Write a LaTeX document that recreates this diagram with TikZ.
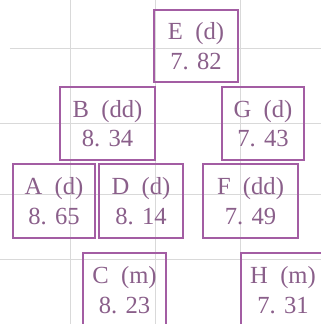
\documentclass[tikz,border=0pt]{standalone}
\usepackage{fontspec}
\setmainfont{Liberation Serif}
\definecolor{boxline}{HTML}{A35DA3}
\definecolor{boxtext}{HTML}{8A5F8A}
\definecolor{gridline}{HTML}{D9D9D9}
\begin{document}
\begin{tikzpicture}[x=0.03cm,y=-0.03cm,
  cell/.style={draw=boxline,line width=0.9pt,text=boxtext,align=center,
    font=\fontsize{21}{25}\selectfont,inner sep=0pt}]
  \useasboundingbox (0,0) rectangle (321,324);
  \clip (0,0) rectangle (321,324);

  % Faint ruling behind the boxes.
  \foreach \x in {70,155,240} {\draw[gridline,line width=0.8pt] (\x,0) -- (\x,324);}
  \draw[gridline,line width=0.8pt] (10,48) -- (321,48);
  \foreach \y in {123,194,259} {\draw[gridline,line width=0.8pt] (0,\y) -- (321,\y);}

  % One box per letter: name, type and value.
  \newcommand{\entry}[5]{%
    \node[cell,minimum width=#3*0.03cm,minimum height=#4*0.03cm] (#1) at #2 {#5};}
  \entry{E}{(196,46)}{84}{72}{E\enspace(d)\\7. 82}
  \entry{B}{(107.5,123.5)}{95}{73}{B\enspace(dd)\\8. 34}
  \entry{G}{(263,123.5)}{82}{73}{G\enspace(d)\\7. 43}
  \entry{A}{(54,201)}{82}{74}{A\enspace(d)\\8. 65}
  \entry{D}{(141,201)}{84}{74}{D\enspace(d)\\8. 14}
  \entry{F}{(250.5,201)}{95}{74}{F\enspace(dd)\\7. 49}
  \entry{C}{(124.5,290)}{83}{74}{C\enspace(m)\\8. 23}
  \entry{H}{(283,290)}{84}{74}{H\enspace(m)\\7. 31}
\end{tikzpicture}
\end{document}
